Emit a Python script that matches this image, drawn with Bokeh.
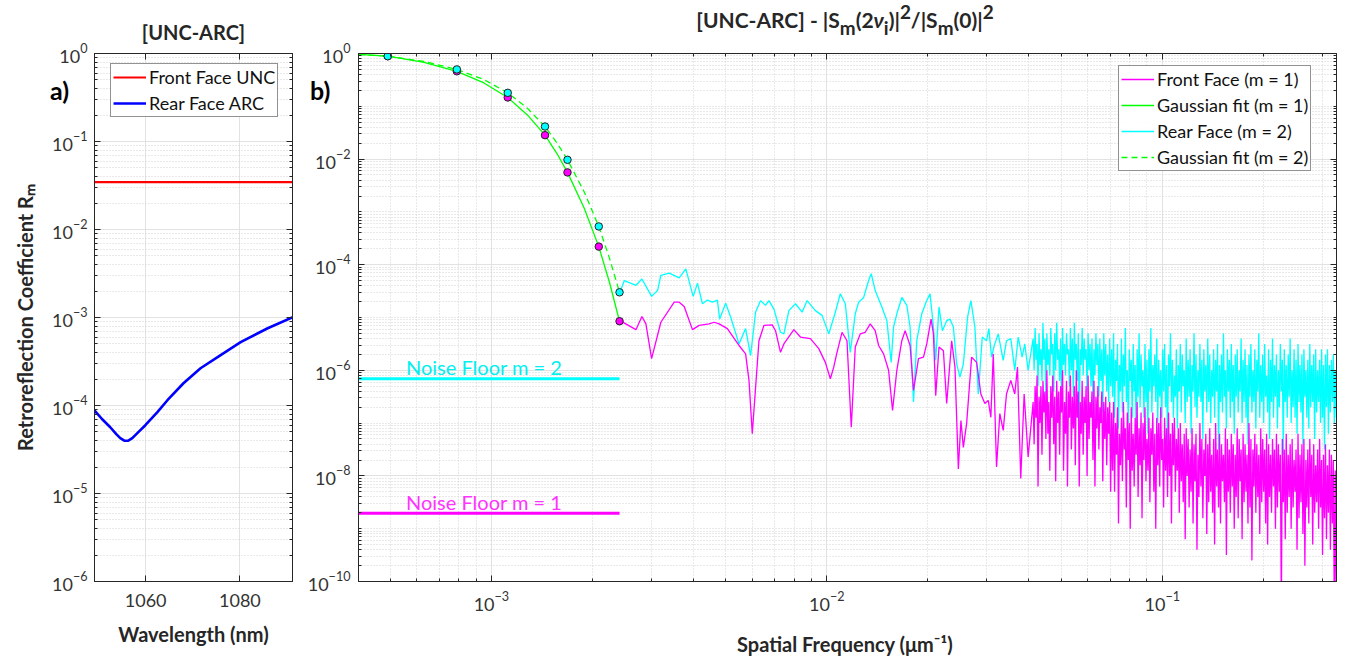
import numpy as np
from bokeh.plotting import figure
from bokeh.models import (FixedTicker, LogAxis, LinearAxis, Legend, LegendItem,
                          Label, Range1d, CustomJSTickFormatter, Div)
from bokeh.layouts import row
from bokeh.embed import file_html
from bokeh.resources import INLINE

# ---------------- panel a data ----------------
wavelength_nm = [1049.09, 1050.79, 1052.49, 1053.77, 1054.62, 1055.47, 1056.32, 1057.17,
                 1058.45, 1059.94, 1062.49, 1064.62, 1068.02, 1071.64, 1075.26, 1080.15,
                 1085.89, 1091.21]
rear_arc_R = [8.85e-5, 6.98e-5, 5.66e-5, 4.72e-5, 4.25e-5, 3.98e-5, 3.98e-5, 4.25e-5,
              4.98e-5, 5.97e-5, 8.39e-5, 1.148e-4, 1.79e-4, 2.65e-4, 3.54e-4, 5.24e-4,
              7.55e-4, 1.007e-3]
front_unc_R = 0.0345

# ---------------- panel b data ----------------
dot_freq = [4.91e-4, 7.89e-4, 1.119e-3, 1.445e-3, 1.686e-3, 2.09e-3, 2.41e-3]
dot_front_R = [0.89, 0.46, 0.147, 0.0284, 0.0056, 2.2e-4, 8.5e-6]
dot_rear_R = [0.89, 0.50, 0.18, 0.0414, 0.0097, 5.3e-4, 3.0e-5]

fit_freq = [4.02e-4, 4.91e-4, 6.3e-4, 7.89e-4, 9.5e-4, 1.119e-3, 1.28e-3, 1.445e-3,
            1.57e-3, 1.686e-3, 1.89e-3, 2.09e-3, 2.25e-3, 2.41e-3]
fit_front_R = [0.96, 0.89, 0.68, 0.46, 0.277, 0.147, 0.0687, 0.0284,
               0.0126, 0.0056, 1.19e-3, 2.2e-4, 4.6e-5, 8.5e-6]
fit_rear_R = [0.96, 0.89, 0.706, 0.50, 0.321, 0.18, 0.092, 0.0414,
              0.020, 0.0097, 2.41e-3, 5.3e-4, 1.32e-4, 3.0e-5]

noise_floor_front = 1.97e-9
noise_floor_rear = 6.9e-7

# measured spectra, low/mid frequency part (log10 of frequency and of R)
front_log10_f = [-2.6166, -2.5691, -2.5513, -2.5394, -2.5224, -2.4948, -2.4550, -2.4401, -2.4253, -2.4006,
                 -2.3807, -2.3510, -2.3361, -2.3212, -2.2966, -2.2618, -2.2422, -2.2321, -2.2223, -2.2024,
                 -2.1875, -2.1629, -2.1530, -2.1382, -2.1281, -2.0984, -2.0787, -2.0490, -2.0241, -2.0045,
                 -1.9896, -1.9795, -1.9697, -1.9548, -1.9400, -1.9272, -1.9153, -1.9004, -1.8856, -1.8707,
                 -1.8559, -1.8457, -1.8309, -1.8160, -1.8042, -1.7914, -1.7765, -1.7667, -1.7519, -1.7417,
                 -1.7269, -1.7120, -1.7022, -1.6894, -1.6823, -1.6755, -1.6657, -1.6526, -1.6428, -1.6279,
                 -1.6181, -1.6080, -1.6003, -1.5932, -1.5834, -1.5685, -1.5536, -1.5409, -1.5290, -1.5189,
                 -1.5111, -1.5040, -1.4942, -1.4844, -1.4743, -1.4645, -1.4517, -1.4398, -1.4318, -1.4220,
                 -1.4119, -1.4000]
front_log10_R = [-5.06, -5.23, -4.98, -5.12, -5.78, -5.09, -4.71, -4.71, -4.79, -5.23,
                 -5.15, -5.12, -5.09, -5.12, -5.21, -5.53, -5.69, -6.19, -7.20, -5.44,
                 -5.15, -5.14, -5.25, -5.66, -5.50, -5.23, -5.37, -5.40, -5.59, -5.85,
                 -6.16, -5.94, -5.66, -5.28, -5.44, -7.08, -5.56, -5.31, -5.28, -5.12,
                 -5.25, -5.53, -5.69, -6.00, -6.76, -6.00, -5.44, -5.25, -5.53, -6.38,
                 -5.78, -5.75, -5.50, -5.03, -5.31, -6.48, -5.56, -5.63, -6.63, -5.44,
                 -5.94, -7.87, -6.95, -7.46, -7.01, -5.75, -5.85, -6.45, -6.63, -6.57,
                 -6.89, -5.69, -7.83, -6.82, -7.14, -6.45, -6.19, -6.45, -5.94, -8.05,
                 -6.45, -7.64]
rear_log10_f = [-2.6166, -2.6036, -2.5691, -2.5513, -2.5224, -2.5046, -2.4948, -2.4698, -2.4401, -2.4205,
                -2.3985, -2.3857, -2.3709, -2.3560, -2.3412, -2.3263, -2.3195, -2.3016, -2.2868, -2.2618,
                -2.2422, -2.2273, -2.2125, -2.1976, -2.1828, -2.1727, -2.1578, -2.1382, -2.1281, -2.1132,
                -2.0936, -2.0737, -2.0588, -2.0342, -2.0143, -1.9943, -1.9747, -1.9599, -1.9450, -1.9302,
                -1.9153, -1.9052, -1.8903, -1.8755, -1.8677, -1.8559, -1.8360, -1.8211, -1.8083, -1.8012,
                -1.7914, -1.7765, -1.7616, -1.7519, -1.7417, -1.7319, -1.7171, -1.7022, -1.6924, -1.6823,
                -1.6755, -1.6657, -1.6556, -1.6428, -1.6330, -1.6229, -1.6131, -1.6033, -1.5932, -1.5804,
                -1.5706, -1.5587, -1.5486, -1.5367, -1.5239, -1.5171, -1.5090, -1.5010, -1.4891, -1.4743,
                -1.4645, -1.4517, -1.4398, -1.4297, -1.4178, -1.4101, -1.4000]
rear_log10_R = [-4.52, -4.30, -4.39, -4.27, -4.60, -4.49, -4.20, -4.16, -4.25, -4.08,
                -4.60, -4.35, -4.74, -4.67, -4.71, -4.67, -5.03, -4.73, -4.99, -5.50,
                -5.21, -5.72, -4.90, -4.68, -4.77, -4.68, -4.84, -5.28, -5.31, -4.87,
                -4.74, -4.90, -4.68, -4.87, -4.96, -5.31, -4.90, -4.55, -4.74, -5.66,
                -4.93, -4.71, -4.62, -4.30, -4.17, -4.49, -4.80, -5.06, -5.85, -5.18,
                -4.93, -4.62, -4.77, -5.18, -6.60, -5.44, -4.93, -4.68, -4.55, -5.18,
                -5.81, -4.80, -5.25, -5.06, -5.03, -5.18, -5.88, -6.13, -5.88, -4.99,
                -4.68, -5.18, -6.45, -5.37, -5.44, -5.21, -5.75, -5.53, -5.31, -5.81,
                -5.44, -5.40, -6.00, -5.37, -5.75, -5.50, -6.00]

# measured spectra, high frequency part (dense), frequency span and log10 R samples
dense_f_start = 0.0412
dense_f_end = 0.33
front_dense_log10_R = [
    -6.6, -7.4, -6.3, -6.9, -6.1, -8.2, -6.5, -7.0, -6.3, -7.6,
    -6.2, -6.8, -6.4, -7.3, -6.0, -7.2, -6.6, -7.9, -6.3, -6.9,
    -6.1, -7.4, -6.5, -8.1, -6.2, -7.0, -6.4, -7.6, -6.3, -6.8,
    -6.0, -7.9, -6.6, -7.2, -6.2, -8.2, -6.4, -6.9, -6.1, -7.5,
    -6.5, -7.1, -6.3, -7.8, -6.0, -6.9, -6.4, -8.2, -6.6, -7.2,
    -6.2, -7.6, -6.5, -7.0, -6.3, -8.0, -6.1, -7.3, -6.6, -6.9,
    -6.4, -7.7, -6.2, -8.2, -6.5, -7.1, -6.3, -7.5, -6.7, -7.0,
    -6.4, -8.1, -6.6, -7.3, -6.5, -7.8, -6.7, -7.2, -6.6, -8.3,
    -6.8, -7.9, -6.6, -8.3, -7.0, -7.6, -6.7, -8.9, -7.2, -7.8,
    -6.9, -8.1, -6.6, -7.5, -7.1, -8.6, -6.8, -7.7, -7.0, -9.0,
    -6.7, -7.9, -7.2, -8.2, -6.9, -7.6, -6.6, -8.4, -7.1, -7.8,
    -6.8, -8.8, -7.0, -7.7, -6.7, -8.1, -7.3, -7.9, -6.9, -8.5,
    -7.1, -7.6, -6.8, -8.3, -7.2, -9.0, -6.9, -7.8, -7.0, -8.2,
    -6.7, -7.7, -7.3, -8.6, -6.9, -7.9, -7.1, -8.4, -6.8, -8.0,
    -7.2, -8.9, -7.0, -7.8, -6.9, -8.3, -7.3, -7.9, -7.1, -8.7,
    -7.0, -8.1, -7.4, -8.5, -7.2, -9.2, -7.1, -8.0, -7.3, -8.6,
    -7.5, -8.3, -7.1, -8.9, -7.4, -8.1, -7.2, -9.4, -7.6, -8.4,
    -7.0, -8.2, -7.3, -8.8, -7.5, -8.0, -7.2, -9.1, -7.4, -8.5,
    -7.1, -8.3, -7.6, -8.7, -7.3, -9.3, -7.0, -8.2, -7.5, -8.6,
    -7.2, -8.9, -7.4, -8.1, -7.6, -8.5, -7.1, -9.5, -7.3, -8.3,
    -7.5, -8.7, -7.2, -8.2, -7.4, -9.0, -7.6, -8.4, -7.1, -8.8,
    -7.3, -8.1, -7.5, -9.2, -7.2, -8.5, -7.4, -8.3, -7.6, -8.9,
    -7.0, -8.6, -7.3, -9.6, -7.5, -8.2, -7.2, -8.7, -7.4, -8.4,
    -7.6, -9.1, -7.1, -8.5, -7.3, -8.3, -7.5, -8.9, -7.2, -9.3,
    -7.4, -8.4, -7.6, -8.7, -7.3, -8.2, -7.5, -9.0, -7.2, -8.6,
    -7.4, -8.3, -7.6, -10.6, -7.3, -8.5, -7.5, -9.2, -7.2, -8.7,
    -7.6, -8.4, -7.4, -9.0, -7.3, -8.6, -7.7, -8.3, -7.5, -9.4,
    -7.2, -8.8, -7.6, -8.5, -7.4, -9.1, -7.3, -9.7, -7.7, -8.6,
    -7.5, -8.9, -7.3, -8.4, -7.6, -9.3, -7.4, -8.7, -7.8, -8.5,
    -7.5, -9.0, -7.3, -8.6, -7.7, -9.5, -7.6, -8.8, -7.4, -9.2,
    -7.8, -8.7, -7.5, -9.4, -7.6, -8.9, -7.7, -10.6, -7.9, -10.6]
rear_dense_log10_R = [
    -5.4, -6.0, -5.2, -5.8, -5.5, -6.3, -5.3, -5.9, -5.6, -6.2,
    -5.1, -5.8, -5.4, -6.5, -5.3, -5.9, -5.6, -6.1, -5.2, -5.7,
    -5.5, -6.4, -5.3, -6.0, -5.1, -5.8, -5.6, -6.2, -5.4, -6.6,
    -5.2, -5.9, -5.5, -6.1, -5.3, -5.7, -5.6, -6.3, -5.2, -6.0,
    -5.4, -6.5, -5.1, -5.8, -5.5, -6.2, -5.3, -7.1, -5.6, -5.9,
    -5.2, -6.1, -5.4, -5.8, -5.6, -6.4, -5.3, -6.0, -5.5, -6.3,
    -5.4, -6.7, -5.6, -6.1, -5.3, -5.9, -5.5, -6.5, -5.4, -6.2,
    -5.6, -6.8, -5.3, -6.1, -5.5, -6.4, -5.7, -6.6, -5.4, -6.3,
    -5.6, -6.5, -5.3, -6.9, -5.8, -6.2, -5.5, -7.1, -5.9, -6.4,
    -5.4, -6.8, -5.7, -6.3, -5.2, -6.6, -6.0, -7.0, -5.6, -6.2,
    -5.8, -6.9, -5.5, -6.4, -5.9, -7.3, -5.6, -6.5, -5.3, -6.7,
    -5.7, -6.3, -6.0, -6.9, -5.5, -6.6, -5.8, -7.2, -5.6, -6.4,
    -5.2, -6.8, -5.9, -6.3, -5.7, -6.6, -5.4, -7.0, -5.8, -6.5,
    -6.0, -6.9, -5.6, -6.4, -5.5, -6.7, -5.9, -7.4, -5.7, -6.3,
    -5.3, -6.6, -5.8, -6.9, -6.1, -6.5, -5.6, -7.1, -5.9, -6.4,
    -5.5, -6.8, -5.7, -6.3, -6.0, -7.0, -5.4, -6.6, -5.8, -6.5,
    -5.6, -7.2, -5.9, -6.4, -5.3, -6.7, -5.7, -6.9, -6.0, -6.5,
    -5.5, -6.6, -5.8, -7.3, -5.6, -6.4, -5.9, -6.8, -5.4, -6.6,
    -5.7, -7.0, -6.0, -6.5, -5.6, -6.9, -5.8, -6.4, -5.5, -7.5,
    -5.9, -6.6, -5.7, -6.8, -5.3, -6.5, -6.0, -7.1, -5.6, -6.4,
    -5.8, -6.9, -5.5, -6.6, -5.9, -7.2, -5.7, -6.5, -5.6, -6.8,
    -6.0, -6.4, -5.4, -7.0, -5.8, -6.6, -5.6, -6.9, -5.9, -7.4,
    -5.7, -6.5, -5.5, -6.8, -6.0, -6.6, -5.6, -7.1, -5.8, -6.4,
    -5.3, -6.9, -5.9, -6.6, -5.7, -7.0, -5.5, -6.5, -6.1, -6.8,
    -5.6, -7.3, -5.8, -6.6, -5.4, -6.9, -5.9, -6.5, -5.7, -7.1,
    -6.0, -6.7, -5.5, -6.4, -5.8, -7.6, -5.6, -6.6, -5.9, -6.9,
    -5.7, -6.5, -5.4, -7.0, -6.0, -6.7, -5.6, -6.9, -5.8, -7.2,
    -5.5, -6.6, -5.9, -6.8, -5.7, -7.4, -5.6, -6.5, -6.0, -6.9,
    -5.8, -7.1, -5.5, -6.7, -5.9, -6.6, -5.7, -7.3, -5.6, -6.8,
    -6.0, -6.6, -5.8, -7.0, -5.6, -6.9, -5.9, -7.5, -5.7, -6.7,
    -5.6, -7.2, -5.9, -6.8, -5.8, -6.6, -5.7, -7.0, -6.0, -6.9]

# ---------------- styling helpers ----------------
FONT = "Lato"
AX = "#262626"
blank = CustomJSTickFormatter(code="return ''")


def style_axis(ax):
    ax.axis_line_color = AX
    ax.major_tick_line_color = AX
    ax.minor_tick_line_color = AX
    ax.major_tick_in = 6
    ax.major_tick_out = 0
    ax.minor_tick_in = 3
    ax.minor_tick_out = 0
    ax.major_label_text_font = FONT
    ax.major_label_text_font_size = "18px"
    ax.major_label_text_color = "#333333"
    ax.axis_label_text_font = FONT
    ax.axis_label_text_font_style = "bold"
    ax.axis_label_text_font_size = "20px"
    ax.axis_label_text_color = AX


def style_fig(p):
    p.background_fill_color = "white"
    p.border_fill_color = "white"
    p.outline_line_color = AX
    p.outline_line_width = 1
    p.grid.grid_line_color = "#e2e2e2"
    p.grid.minor_grid_line_color = "#d2d2d2"
    p.grid.minor_grid_line_dash = "1 2"
    p.title.text_font = FONT
    p.title.text_font_style = "bold"
    p.title.text_font_size = "20px"
    p.title.text_color = AX
    p.title.align = "center"


def mirror(p, ticker, place, log):
    cls = LogAxis if log else LinearAxis
    ax = cls(ticker=ticker, formatter=blank, major_label_standoff=0)
    style_axis(ax)
    p.add_layout(ax, place)


def style_legend(leg):
    leg.label_text_font = FONT
    leg.label_text_font_size = "18px"
    leg.label_text_color = "#111111"
    leg.glyph_width = 33
    leg.glyph_height = 20
    leg.label_height = 20
    leg.spacing = 4
    leg.padding = 2
    leg.margin = 0
    leg.label_standoff = 3
    leg.border_line_color = AX
    leg.border_line_width = 1


def floating_text(html, left, top, size, width=1, align="left", color="#000000"):
    """Bold text floated over the page, outside the plot frames."""
    return Div(text=html, width=width, height=1,
               styles={"position": "absolute", "left": f"{left}px", "top": f"{top}px",
                       "font-family": FONT, "font-weight": "bold", "font-size": size,
                       "line-height": "1", "color": color, "margin": "0",
                       "padding": "0", "white-space": "nowrap", "overflow": "visible",
                       "text-align": align})


SUB = '<sub style="font-size:0.9em;line-height:0;vertical-align:-0.35em">'
SUP = '<sup style="font-size:0.9em;line-height:0;vertical-align:0.5em">'
title_b_html = ("[UNC-ARC] - |S" + SUB + "m</sub>(2<i>&nu;</i>" + SUB + "i</sub>)|" +
                SUP + "2</sup>/|S" + SUB + "m</sub>(0)|" + SUP + "2</sup>")

# ---------------- panel a ----------------
pa = figure(width=304, height=664, x_range=Range1d(1049.15, 1091.15),
            y_range=Range1d(1e-6, 1), y_axis_type="log",
            output_backend="svg", toolbar_location=None,
            min_border_left=94, min_border_right=12, min_border_top=53,
            min_border_bottom=83, title="[UNC-ARC]")
style_fig(pa)
pa.title.standoff = 19
ya_major = [10.0 ** e for e in range(-6, 1)]
ya_minor = [k * 10.0 ** e for e in range(-6, 0) for k in range(2, 10)]
ya_ticker = FixedTicker(ticks=ya_major, minor_ticks=ya_minor)
xa_ticker = FixedTicker(ticks=[1060, 1080], minor_ticks=[])
pa.yaxis[0].ticker = ya_ticker
pa.xaxis[0].ticker = xa_ticker
pa.xaxis[0].axis_label = "Wavelength (nm)"
pa.yaxis[0].axis_label = "Retroreflection Coefficient R\u2098"
for ax in pa.axis:
    style_axis(ax)
pa.xaxis[0].major_label_standoff = 12
pa.xaxis[0].axis_label_standoff = 12
pa.yaxis[0].major_label_standoff = 7
pa.yaxis[0].axis_label_standoff = 12
mirror(pa, xa_ticker, "above", False)
mirror(pa, ya_ticker, "right", True)

r_red = pa.line(wavelength_nm, [front_unc_R] * len(wavelength_nm),
                line_color="#ff0000", line_width=2.2)
r_blue = pa.line(wavelength_nm, rear_arc_R, line_color="#0000ff", line_width=2.6)

leg_a = Legend(items=[LegendItem(label="Front Face UNC", renderers=[r_red]),
                      LegendItem(label="Rear Face ARC", renderers=[r_blue])],
               location=(16, 464))
style_legend(leg_a)
pa.add_layout(leg_a)

# ---------------- panel b ----------------
pb = figure(width=1056, height=664, x_range=Range1d(4.017e-4, 0.3305),
            y_range=Range1d(1e-10, 1), x_axis_type="log", y_axis_type="log",
            output_backend="svg", toolbar_location=None,
            min_border_left=51, min_border_right=24, min_border_top=53,
            min_border_bottom=83)
style_fig(pb)
yb_major = [10.0 ** e for e in range(-10, 1, 2)]
yb_minor = [k * 10.0 ** e for e in range(-10, 0) for k in range(1, 10)
            if not (k == 1 and e % 2 == 0)]
yb_ticker = FixedTicker(ticks=yb_major, minor_ticks=yb_minor)
xb_major = [1e-3, 1e-2, 1e-1]
xb_minor = ([k * 1e-4 for k in range(4, 10)] + [k * 1e-3 for k in range(2, 10)] +
            [k * 1e-2 for k in range(2, 10)] + [k * 1e-1 for k in range(2, 4)])
xb_ticker = FixedTicker(ticks=xb_major, minor_ticks=xb_minor)
pb.yaxis[0].ticker = yb_ticker
pb.xaxis[0].ticker = xb_ticker
pb.xaxis[0].axis_label = "Spatial Frequency  (\u03bcm\u207b\u00b9)"
for ax in pb.axis:
    style_axis(ax)
pb.xaxis[0].major_label_standoff = 10
pb.xaxis[0].axis_label_standoff = 18
pb.yaxis[0].major_label_standoff = 8
mirror(pb, xb_ticker, "above", True)
mirror(pb, yb_ticker, "right", True)

dense_f = np.geomspace(dense_f_start, dense_f_end, len(front_dense_log10_R))
front_f = np.concatenate([10.0 ** np.array(front_log10_f), dense_f])
front_R = 10.0 ** np.concatenate([front_log10_R, front_dense_log10_R])
rear_f = np.concatenate([10.0 ** np.array(rear_log10_f), dense_f])
rear_R = 10.0 ** np.concatenate([rear_log10_R, rear_dense_log10_R])

r_rear = pb.line(rear_f, rear_R, line_color="#00ffff", line_width=1.3)
r_front = pb.line(front_f, front_R, line_color="#ff00ff", line_width=1.3)
r_fit1 = pb.line(fit_freq, fit_front_R, line_color="#00ff00", line_width=1.3)
r_fit2 = pb.line(fit_freq, fit_rear_R, line_color="#00ff00", line_width=1.3,
                 line_dash="6 4")

floor_f = [fit_freq[0], dot_freq[-1]]
pb.line(floor_f, [noise_floor_rear] * 2, line_color="#00ffff", line_width=3)
pb.line(floor_f, [noise_floor_front] * 2, line_color="#ff00ff", line_width=3)

pb.scatter(dot_freq, dot_front_R, size=7.5, fill_color="#ff00ff",
           line_color="#222222", line_width=1)
pb.scatter(dot_freq, dot_rear_R, size=7.5, fill_color="#00ffff",
           line_color="#222222", line_width=1)

leg_b = Legend(items=[LegendItem(label="Front Face (m = 1)", renderers=[r_front]),
                      LegendItem(label="Gaussian fit (m = 1)", renderers=[r_fit1]),
                      LegendItem(label="Rear Face (m = 2)", renderers=[r_rear]),
                      LegendItem(label="Gaussian fit (m = 2)", renderers=[r_fit2])],
               location=(760, 410))
style_legend(leg_b)
pb.add_layout(leg_b)

pb.add_layout(Label(x=5.566e-4, y=1.18e-6, text="Noise Floor m = 2", text_font=FONT,
                    text_font_size="20px", text_color="#00f0f0",
                    text_baseline="alphabetic"))
pb.add_layout(Label(x=5.566e-4, y=3.18e-9, text="Noise Floor m = 1", text_font=FONT,
                    text_font_size="20px", text_color="#ff33ff",
                    text_baseline="alphabetic"))

layout = row(pa, pb,
             floating_text("a)", 50, 78, "25px"),
             floating_text("b)", 310, 78, "25px"),
             floating_text(title_b_html, 595, 9, "21px", width=500, align="center",
                           color=AX))
open("out.html", "w").write(file_html(layout, INLINE))
